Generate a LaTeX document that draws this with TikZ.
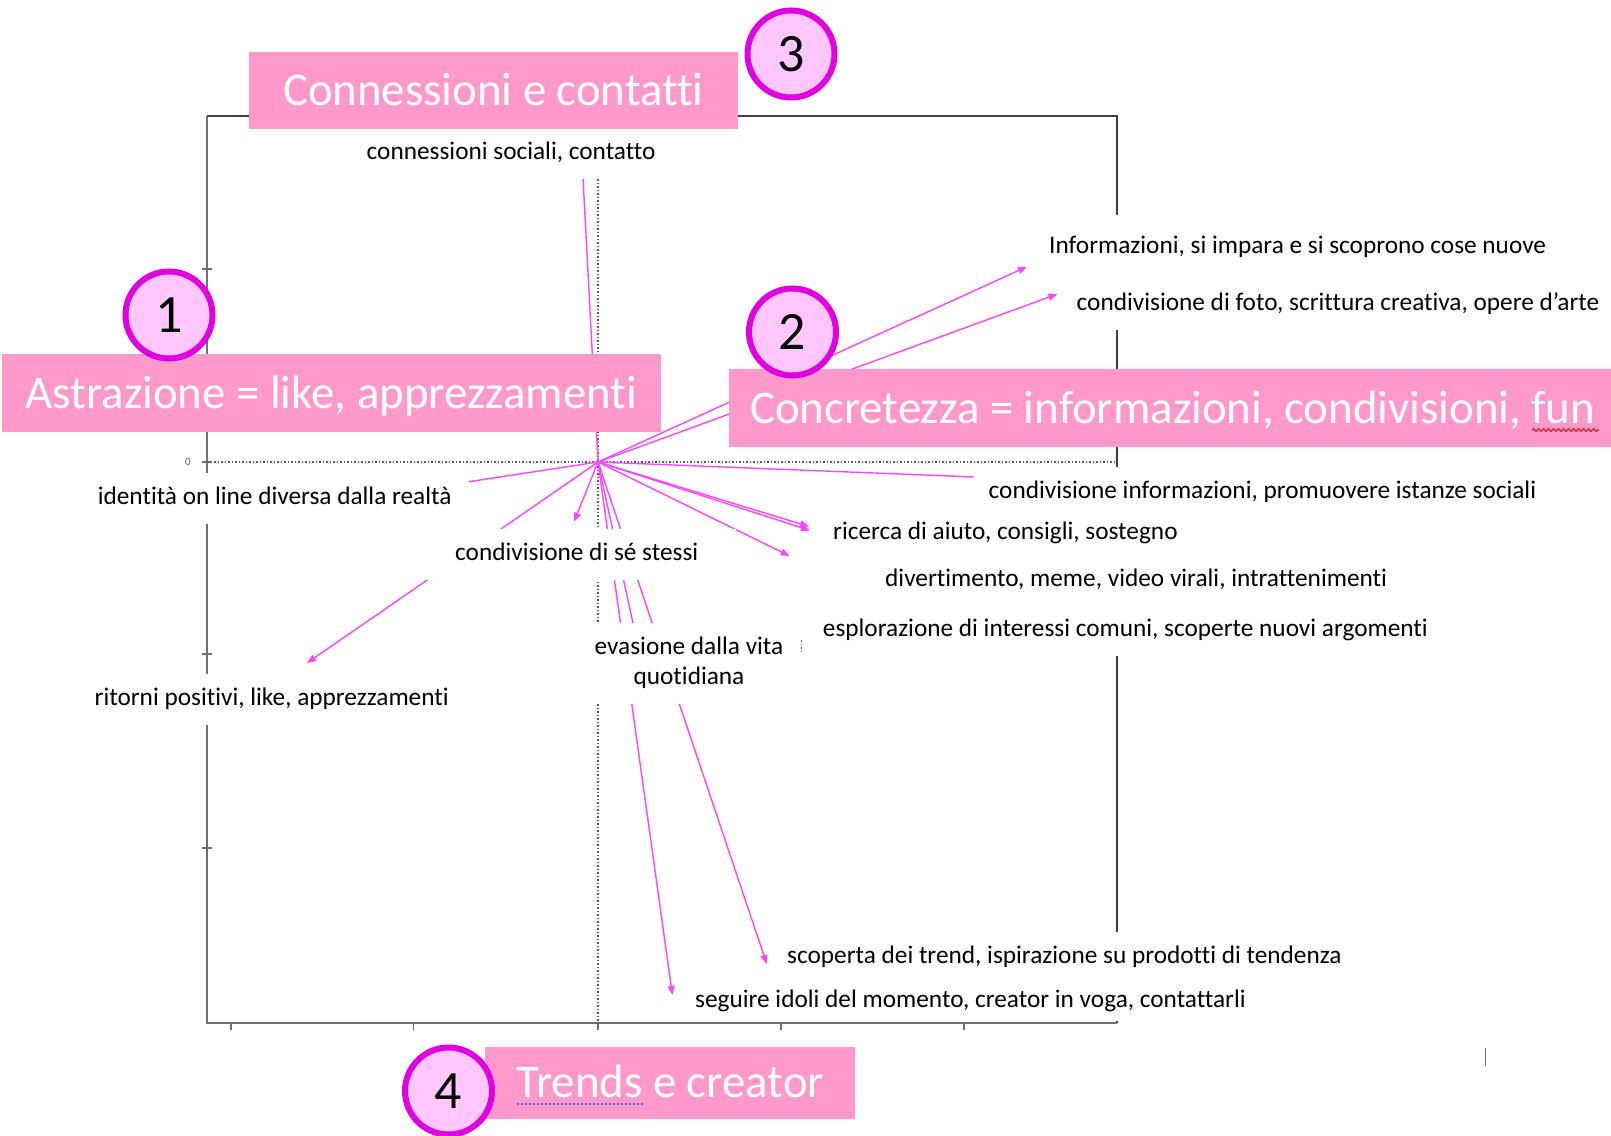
\documentclass[tikz,border=0pt]{standalone}
\usepackage{fontspec}
\setmainfont{Carlito}[Ligatures=NoCommon]
\usetikzlibrary{arrows.meta,decorations.pathmorphing}
\definecolor{boxpink}{HTML}{FF99CC}
\definecolor{circfill}{HTML}{FFC6FF}
\definecolor{circline}{HTML}{E000E0}
\definecolor{arrowpink}{HTML}{FF44FF}
\definecolor{axisgray}{HTML}{707070}
\definecolor{spellred}{HTML}{E02020}
\definecolor{spellblue}{HTML}{5B5BFF}
\newcommand\lblfont{\fontsize{25.3}{30.3}\selectfont}
\newcommand\titlefont{\fontsize{46.8}{55}\selectfont}
\newcommand\numfont{\fontsize{54}{60}\selectfont}
\begin{document}
\begin{tikzpicture}[x=1pt,y=-1pt,
  lbl/.style={fill=white, inner xsep=16pt, inner ysep=13pt, text height=18.75pt, text depth=6.25pt, font=\lblfont, anchor=west},
  pinkbox/.style={fill=boxpink, text=white, font=\titlefont, anchor=north west, inner sep=0pt, text height=32.7pt, text depth=2.3pt},
  numcirc/.style={circle, draw=circline, fill=circfill, line width=6pt, minimum size=87pt, inner sep=0pt, font=\numfont},
  conn/.style={draw=arrowpink, line width=1.4pt},
  arr/.style={conn, -{Triangle[length=9pt,width=7pt]}},
  plotframe/.style={draw=black!75, line width=1.3pt},
  plotaxis/.style={draw=axisgray, line width=2pt},
  guideline/.style={draw=black!65, line width=1.2pt, dash pattern=on 1.5pt off 2pt},
]
\useasboundingbox (0,0) rectangle (1611,1135);
\clip (0,0) rectangle (1611,1135);
\fill[white] (0,0) rectangle (1611,1135);

% frame and axes
\draw[plotframe] (207,116) -- (1117,116) -- (1117,1023);
\draw[plotaxis] (207,116) -- (207,1023) -- (1117,1023);
\foreach \yy in {269,462,654,848} \draw[plotaxis, line width=1.5pt] (202,\yy) -- (212,\yy);
\foreach \xx in {231,413.4,597.8,780.8,964} \draw[plotaxis, line width=1.5pt] (\xx,1023) -- (\xx,1030);
\node[font=\fontsize{11}{12}\selectfont, text=black!60, inner sep=0pt] (zero) at (188,462) {0};
\draw[guideline] (207,462) -- (1117,462);
\draw[guideline] (598,116) -- (598,1023);
\draw[guideline] (801.7,640) -- (801.7,654);
\draw[axisgray, line width=1.2pt] (1485.6,1048) -- (1485.6,1066);

% connector end points
\coordinate (o) at (598,462);
\coordinate (eConn) at (583,178);
\coordinate (eInfo) at (1027,266.7);
\coordinate (eFoto) at (1057.5,294);
\coordinate (eCInfo) at (975,477);
\coordinate (eRicA) at (809,526.5);
\coordinate (eRicB) at (810,530.5);
\coordinate (eDiv) at (789.7,556);
\coordinate (eSe) at (574,521.7);
\coordinate (eRit) at (307,663);
\coordinate (eIdent) at (469,481.7);
\coordinate (eEvas) at (634,628);
\coordinate (eSeg) at (672.4,995);
\coordinate (eSco) at (766.8,964);

% connectors
\draw[conn] (o) -- (eConn);
\draw[arr] (o) -- (eInfo);
\draw[arr] (o) -- (eFoto);
\draw[conn] (o) -- (eCInfo);
\draw[arr] (o) -- (eRicA);
\draw[arr] (o) -- (eRicB);
\draw[arr] (o) -- (eDiv);
\draw[arr] (o) -- (eSe);
\draw[arr] (o) -- (eRit);
\draw[conn] (o) -- (eIdent);
\draw[conn] (o) -- (eEvas);
\draw[arr] (o) -- (eSeg);
\draw[arr] (o) -- (eSco);

% labels
\node[lbl] (lconn) at (350.5,153) {connessioni sociali, contatto};
\node[lbl, inner ysep=20pt] (linfo) at (1033,247) {Informazioni, si impara e si scoprono cose nuove};
\node[lbl] (lfoto) at (1060.5,304) {condivisione di foto, scrittura creativa, opere d’arte};
\node[lbl] (lident) at (81.6,498) {identità on line diversa dalla realtà};
\node[lbl] (lcinfo) at (972.5,492.5) {condivisione informazioni, promuovere istanze sociali};
\node[lbl] (lric) at (817,533.5) {ricerca di aiuto, consigli, sostegno};
\node[lbl, inner xsep=38pt] (lse) at (417,554) {condivisione di sé stessi};
\node[lbl] (ldiv) at (869,580) {divertimento, meme, video virali, intrattenimenti};
\node[lbl] (lespl) at (806.7,630) {esplorazione di interessi comuni, scoperte nuovi argomenti};
\node[fill=white, font=\lblfont, align=center, inner sep=0pt, minimum width=208pt, minimum height=81pt] (levas) at (689,663) {evasione dalla vita\\quotidiana};
\node[lbl] (lrit) at (78.5,699) {ritorni positivi, like, apprezzamenti};
\node[lbl] (lsco) at (771,957.5) {scoperta dei trend, ispirazione su prodotti di tendenza};
\node[lbl, inner ysep=7pt] (lseg) at (679,1001) {seguire idoli del momento, creator in voga, contattarli};

% pink title boxes
\node[pinkbox, minimum width=489.5pt, minimum height=77pt] (tconn) at (248.5,52) {Connessioni e contatti};
\node[pinkbox, minimum width=659.7pt, minimum height=78pt] (tastr) at (1.3,354) {Astrazione = like, apprezzamenti};
\node[pinkbox, minimum width=887pt, minimum height=77.7pt] (tconc) at (729,369) {Concretezza = informazioni, condivisioni, fun};
\node[pinkbox, minimum width=369.9pt, minimum height=71.6pt] (ttrend) at (484.9,1046.7) {Trends e creator};

% spell-check marks
\draw[spellred, line width=1.2pt, decorate, decoration={snake, amplitude=1.4pt, segment length=5pt}] (1532,430) -- (1599,430);
\draw[spellblue, line width=2pt, dash pattern=on 2pt off 2pt] (517,1104) -- (645,1104);

% number circles
\node[numcirc] (c1) at (169,315) {1};
\node[numcirc] (c2) at (792.5,332) {2};
\node[numcirc] (c3) at (791,54) {3};
\node[numcirc] (c4) at (448.5,1091) {4};
\end{tikzpicture}
\end{document}
